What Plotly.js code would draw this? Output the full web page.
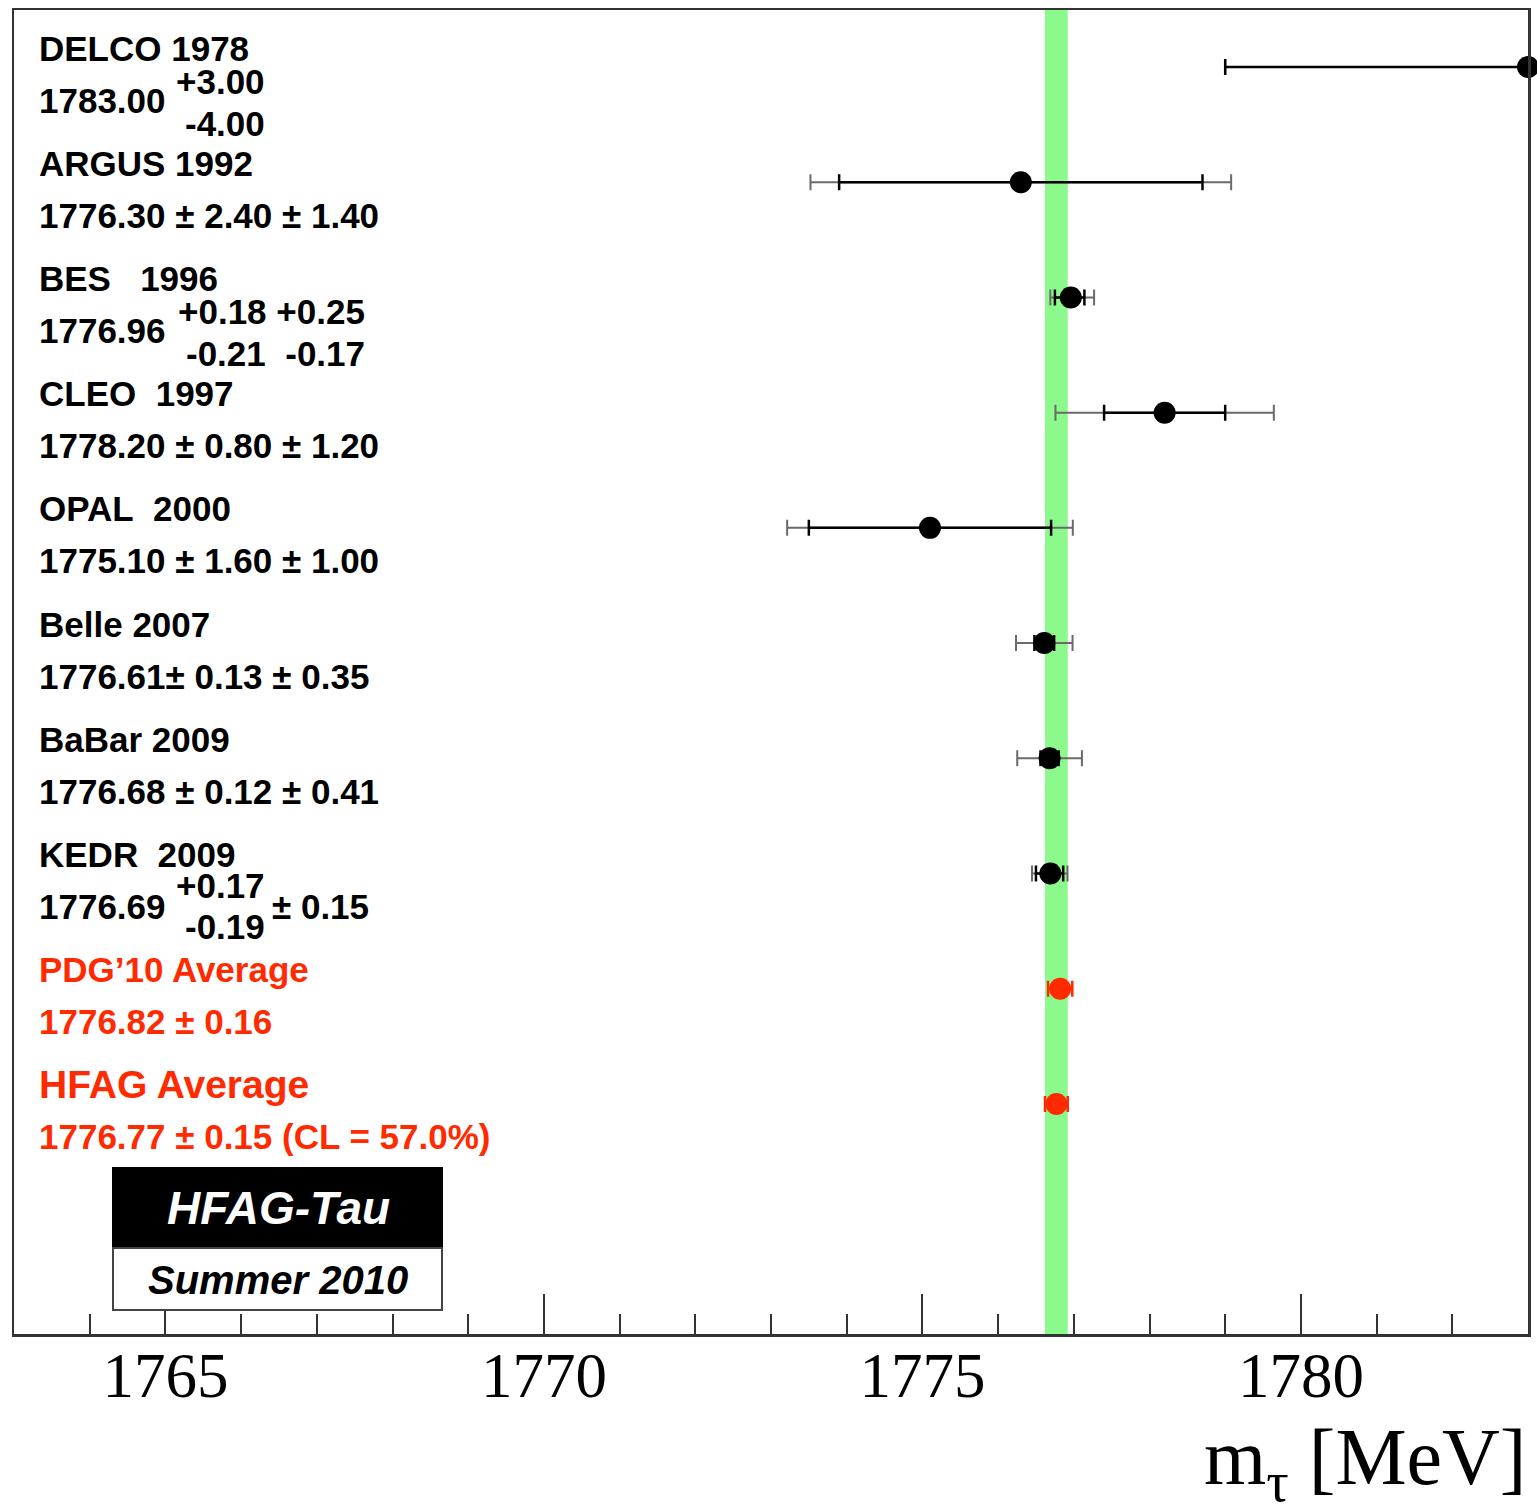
<!DOCTYPE html>
<html>
<head>
<meta charset="utf-8">
<script src="https://cdn.plot.ly/plotly-3.0.1.min.js"></script>
<style>html,body{margin:0;padding:0;background:#fff;}</style>
</head>
<body>
<div id="chart" style="width:1537px;height:1504px;"></div>
<script>
// ---- data ----
const names = ['DELCO 1978', 'ARGUS 1992', 'BES\u00a0\u00a0\u00a01996', 'CLEO\u00a0\u00a01997', 'OPAL\u00a0\u00a02000',
               'Belle 2007', 'BaBar 2009', 'KEDR\u00a0\u00a02009', 'PDG\u201910 Average', 'HFAG Average'];
const mass      = [1783.00, 1776.30, 1776.96, 1778.20, 1775.10, 1776.61, 1776.68, 1776.69, 1776.82, 1776.77];
const statPlus  = [3.00, 2.40, 0.18, 0.80, 1.60, 0.13, 0.12, 0.17, 0.16, 0.15];
const statMinus = [4.00, 2.40, 0.21, 0.80, 1.60, 0.13, 0.12, 0.19, 0.16, 0.15];
const sysPlus   = [0.00, 1.40, 0.25, 1.20, 1.00, 0.35, 0.41, 0.15, 0.00, 0.00];
const sysMinus  = [0.00, 1.40, 0.17, 1.20, 1.00, 0.35, 0.41, 0.15, 0.00, 0.00];
const isAverage = [false, false, false, false, false, false, false, false, true, true];
// value line texts
const valueText = ['1783.00', '1776.30 \u00b1 2.40 \u00b1 1.40', '1776.96', '1778.20 \u00b1 0.80 \u00b1 1.20',
                   '1775.10 \u00b1 1.60 \u00b1 1.00', '1776.61\u00b1 0.13 \u00b1 0.35', '1776.68 \u00b1 0.12 \u00b1 0.41',
                   '1776.69', '1776.82 \u00b1 0.16', '1776.77 \u00b1 0.15 (CL = 57.0%)'];
const supText = ['+3.00', '', '+0.18 +0.25', '', '', '', '', '+0.17', '', ''];
const subText = ['-4.00', '', '-0.21\u00a0\u00a0-0.17', '', '', '', '', '-0.19', '', ''];
const tailText = ['', '', '', '', '', '', '', '\u00b1 0.15', '', ''];
const xTickVals = [1765, 1770, 1775, 1780];

// ---- geometry helpers (pixels -> paper) ----
const W = 1537, H = 1504;
const M = {l: 14, r: 9, t: 10, b: 170};
const PW = W - M.l - M.r, PH = H - M.t - M.b;
const px = x => (x - M.l) / PW;
const py = y => (H - M.b - y) / PH;

const rows = mass.map((_, i) => i);
const RED = '#ff2a00';
const sans = 'Liberation Sans, Arial, Helvetica, sans-serif';
const serif = 'Liberation Serif, Times New Roman, serif';

const total = (a, b) => Math.sqrt(a * a + b * b);
const totPlus = statPlus.map((s, i) => total(s, sysPlus[i]));
const totMinus = statMinus.map((s, i) => total(s, sysMinus[i]));

const idxBlack = rows.filter(i => !isAverage[i]);
const idxRed = rows.filter(i => isAverage[i]);
const pick = (arr, idx) => idx.map(i => arr[i]);

const traces = [];
// total error (outer, grey)
traces.push({
  type: 'scatter', mode: 'markers', x: pick(mass, idxBlack), y: idxBlack,
  marker: {size: 1, color: 'rgba(0,0,0,0)'}, hoverinfo: 'skip', showlegend: false,
  error_x: {type: 'data', symmetric: false, array: pick(totPlus, idxBlack), arrayminus: pick(totMinus, idxBlack),
            color: '#6a6a6a', thickness: 2, width: 8}
});
// stat error (inner, black)
traces.push({
  type: 'scatter', mode: 'markers', x: pick(mass, idxBlack), y: idxBlack,
  marker: {size: 1, color: 'rgba(0,0,0,0)'}, hoverinfo: 'skip', showlegend: false,
  error_x: {type: 'data', symmetric: false, array: pick(statPlus, idxBlack), arrayminus: pick(statMinus, idxBlack),
            color: '#000', thickness: 2.5, width: 8}
});
// averages error (red)
traces.push({
  type: 'scatter', mode: 'markers', x: pick(mass, idxRed), y: idxRed,
  marker: {size: 1, color: 'rgba(0,0,0,0)'}, hoverinfo: 'skip', showlegend: false,
  error_x: {type: 'data', symmetric: false, array: pick(totPlus, idxRed), arrayminus: pick(totMinus, idxRed),
            color: RED, thickness: 2.5, width: 8}
});
// markers
traces.push({
  type: 'scatter', mode: 'markers', x: pick(mass, idxBlack), y: idxBlack, cliponaxis: false,
  marker: {size: 22, color: '#000'}, showlegend: false
});
traces.push({
  type: 'scatter', mode: 'markers', x: pick(mass, idxRed), y: idxRed, cliponaxis: false,
  marker: {size: 22, color: RED}, showlegend: false
});

// ---- annotations ----
const ann = [];
const rowPx = PH / 11.492; // px per row unit
const textX = px(37);
rows.forEach(i => {
  const col = isAverage[i] ? RED : '#000';
  const nameSize = i === 9 ? 39 : 35;
  ann.push({xref: 'paper', yref: 'y', x: textX, y: i - 19 / rowPx, xanchor: 'left', yanchor: 'middle',
            text: '<b>' + names[i] + '</b>', showarrow: false, font: {family: sans, size: nameSize, color: col}});
  ann.push({xref: 'paper', yref: 'y', x: textX, y: i + 33 / rowPx, xanchor: 'left', yanchor: 'middle',
            text: '<b>' + valueText[i] + '</b>', showarrow: false, font: {family: sans, size: 35, color: col}});
  if (supText[i]) {
    const right = i === 2 ? px(367) : px(267);
    const supOff = i === 7 ? 12 : 14;
    const subOff = i === 7 ? 53 : 56;
    ann.push({xref: 'paper', yref: 'y', x: right, y: i + supOff / rowPx, xanchor: 'right', yanchor: 'middle',
              text: '<b>' + supText[i] + '</b>', showarrow: false, font: {family: sans, size: 35, color: col}});
    ann.push({xref: 'paper', yref: 'y', x: right, y: i + subOff / rowPx, xanchor: 'right', yanchor: 'middle',
              text: '<b>' + subText[i] + '</b>', showarrow: false, font: {family: sans, size: 35, color: col}});
  }
  if (tailText[i]) {
    ann.push({xref: 'paper', yref: 'y', x: px(270), y: i + 33 / rowPx, xanchor: 'left', yanchor: 'middle',
              text: '<b>' + tailText[i] + '</b>', showarrow: false, font: {family: sans, size: 35, color: col}});
  }
});
// HFAG-Tau logo texts
ann.push({xref: 'paper', yref: 'paper', x: px(278), y: py(1208), xanchor: 'center', yanchor: 'middle',
          text: '<b><i>HFAG-Tau</i></b>', showarrow: false, font: {family: sans, size: 46, color: '#fff'}});
ann.push({xref: 'paper', yref: 'paper', x: px(278), y: py(1280), xanchor: 'center', yanchor: 'middle',
          text: '<b><i>Summer 2010</i></b>', showarrow: false, font: {family: sans, size: 40, color: '#000'}});
// axis title
ann.push({xref: 'paper', yref: 'paper', x: px(1528), y: py(1463), xanchor: 'right', yanchor: 'middle',
          text: 'm<sub>\u03c4</sub> [MeV]', showarrow: false, font: {family: serif, size: 80, color: '#000'}});

const shapes = [
  {type: 'rect', xref: 'x', yref: 'paper', x0: mass[9] - statMinus[9], x1: mass[9] + statPlus[9], y0: 0, y1: 1,
   fillcolor: '#8cf98c', line: {width: 0}, layer: 'below'},
  {type: 'rect', xref: 'paper', yref: 'paper', x0: px(113), x1: px(442), y0: py(1248), y1: py(1168),
   fillcolor: '#000', line: {color: '#000', width: 2}, layer: 'above'},
  {type: 'rect', xref: 'paper', yref: 'paper', x0: px(113), x1: px(442), y0: py(1310), y1: py(1248),
   fillcolor: '#fff', line: {color: '#444', width: 2}, layer: 'above'}
];

const layout = {
  width: W, height: H, margin: M,
  paper_bgcolor: '#fff', plot_bgcolor: '#fff',
  showlegend: false,
  xaxis: {
    range: [1763, 1783], tickmode: 'array', tickvals: xTickVals,
    ticks: 'inside', ticklen: 40, tickwidth: 2, tickcolor: '#333', ticklabelstandoff: -15,
    minor: {dtick: 1, tick0: 1765, ticks: 'inside', ticklen: 20, tickwidth: 2, tickcolor: '#333', showgrid: false},
    tickfont: {family: serif, size: 63, color: '#000'},
    showgrid: false, zeroline: false, showline: true, mirror: true, linecolor: '#333', linewidth: 2.5
  },
  yaxis: {
    range: [10.997, -0.495], showticklabels: false, ticks: '', showgrid: false, zeroline: false,
    showline: true, mirror: true, linecolor: '#333', linewidth: 2.5
  },
  shapes: shapes,
  annotations: ann
};

Plotly.newPlot('chart', traces, layout, {staticPlot: true});
</script>
</body>
</html>
